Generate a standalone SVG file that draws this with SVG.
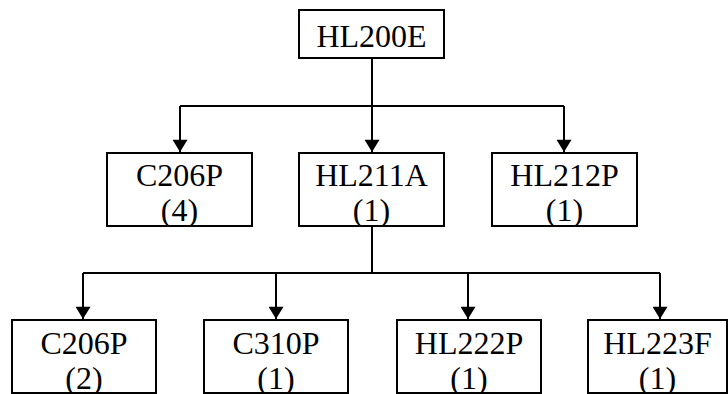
<svg xmlns="http://www.w3.org/2000/svg" width="728" height="394" viewBox="0 0 728 394">
<style>
.box{fill:#fff;stroke:#000;stroke-width:2}
.t{font-family:'Liberation Serif','Times New Roman',serif;font-size:32px;text-anchor:middle;fill:#000}
.c{fill:none;stroke:#000;stroke-width:2}
</style>
<defs>
<marker id="ah" markerUnits="userSpaceOnUse" markerWidth="18" markerHeight="15" refX="14" refY="8.5" orient="auto" viewBox="0 0 14 17">
<path d="M0,0 L14,8.5 L0,17 Z" fill="#000"/>
</marker>
<clipPath id="c1"><rect x="107" y="153" width="145" height="73"/></clipPath>
<clipPath id="c2"><rect x="299" y="153" width="145" height="73"/></clipPath>
<clipPath id="c3"><rect x="492" y="153" width="145" height="73"/></clipPath>
<clipPath id="c4"><rect x="12" y="320" width="144" height="73"/></clipPath>
<clipPath id="c5"><rect x="204" y="320" width="144" height="73"/></clipPath>
<clipPath id="c6"><rect x="397" y="320" width="144" height="73"/></clipPath>
<clipPath id="c7"><rect x="588" y="320" width="139" height="73"/></clipPath>
</defs>
<g id="connectors">
<path class="c" d="M372,58 V106"/>
<path class="c" d="M180,106 H564"/>
<path class="c" d="M180,106 V152" marker-end="url(#ah)"/>
<path class="c" d="M372,106 V152" marker-end="url(#ah)"/>
<path class="c" d="M564,106 V152" marker-end="url(#ah)"/>
<path class="c" d="M372,226 V273"/>
<path class="c" d="M83,273 H660"/>
<path class="c" d="M83,273 V319" marker-end="url(#ah)"/>
<path class="c" d="M276,273 V319" marker-end="url(#ah)"/>
<path class="c" d="M468,273 V319" marker-end="url(#ah)"/>
<path class="c" d="M660,273 V319" marker-end="url(#ah)"/>
</g>
<g id="n0"><rect class="box" x="299" y="10" width="145" height="48"/><text class="t" x="371.5" y="47">HL200E</text></g>
<g id="n1"><rect class="box" x="107" y="153" width="145" height="73"/><g clip-path="url(#c1)"><text class="t" x="179.5" y="186">C206P</text><text class="t" x="179.5" y="221">(4)</text></g></g>
<g id="n2"><rect class="box" x="299" y="153" width="145" height="73"/><g clip-path="url(#c2)"><text class="t" x="371.5" y="186">HL211A</text><text class="t" x="371.5" y="221">(1)</text></g></g>
<g id="n3"><rect class="box" x="492" y="153" width="145" height="73"/><g clip-path="url(#c3)"><text class="t" x="564.5" y="186">HL212P</text><text class="t" x="564.5" y="221">(1)</text></g></g>
<g id="n4"><rect class="box" x="12" y="320" width="144" height="73"/><g clip-path="url(#c4)"><text class="t" x="84" y="354">C206P</text><text class="t" x="84" y="389">(2)</text></g></g>
<g id="n5"><rect class="box" x="204" y="320" width="144" height="73"/><g clip-path="url(#c5)"><text class="t" x="276" y="354">C310P</text><text class="t" x="276" y="389">(1)</text></g></g>
<g id="n6"><rect class="box" x="397" y="320" width="144" height="73"/><g clip-path="url(#c6)"><text class="t" x="469" y="354">HL222P</text><text class="t" x="469" y="389">(1)</text></g></g>
<g id="n7"><rect class="box" x="588" y="320" width="139" height="73"/><g clip-path="url(#c7)"><text class="t" x="657.5" y="354">HL223F</text><text class="t" x="657.5" y="389">(1)</text></g></g>
</svg>
